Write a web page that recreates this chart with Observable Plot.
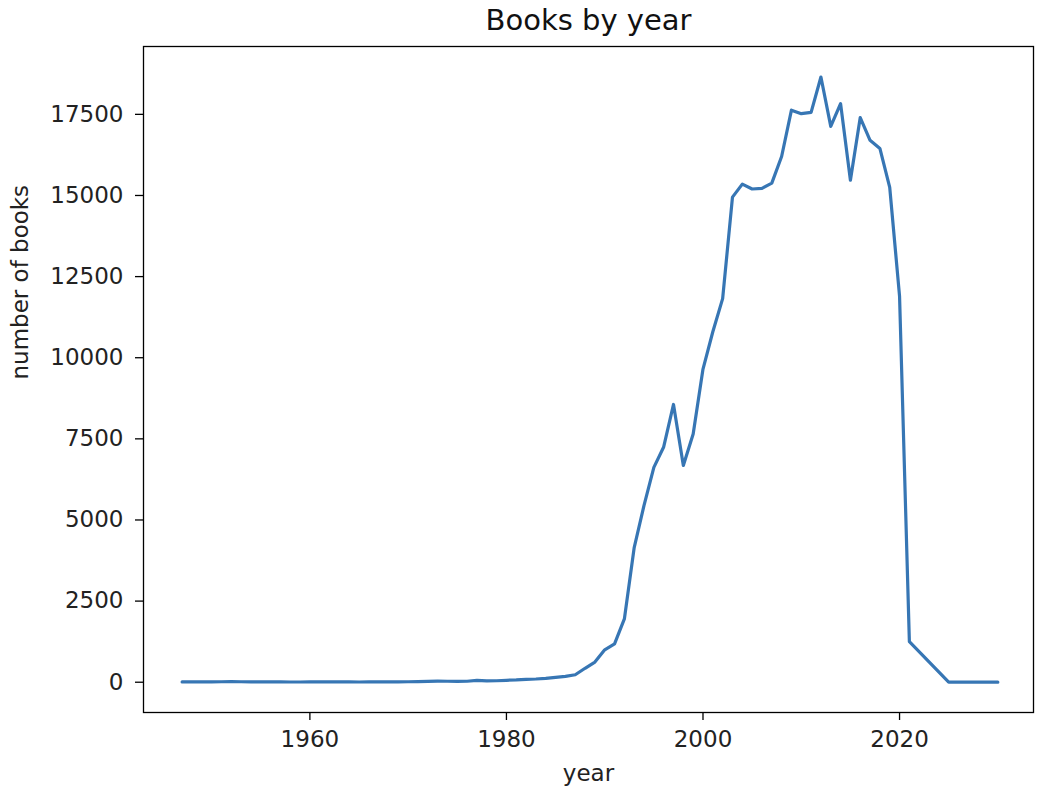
<!DOCTYPE html>
<html>
<head>
<meta charset="utf-8">
<script src="https://cdn.jsdelivr.net/npm/d3@7"></script>
<script src="https://cdn.jsdelivr.net/npm/@observablehq/plot@0.6"></script>
<style>
  html, body { margin: 0; padding: 0; background: #fff; }
  #chart svg { display: block; }
</style>
</head>
<body>
<div id="chart"></div>
<script>
const years = [1947,1948,1949,1950,1951,1952,1953,1954,1955,1956,1957,1958,1959,
  1960,1961,1962,1963,1964,1965,1966,1967,1968,1969,
  1970,1971,1972,1973,1974,1975,1976,1977,1978,1979,
  1980,1981,1982,1983,1984,1985,1986,1987,1988,1989,
  1990,1991,1992,1993,1994,1995,1996,1997,1998,1999,
  2000,2001,2002,2003,2004,2005,2006,2007,2008,2009,
  2010,2011,2012,2013,2014,2015,2016,2017,2018,2019,
  2020,2021,2025,2030];
const books = [10,8,10,12,15,20,15,10,8,8,8,7,7,
  8,8,8,8,8,7,8,8,10,12,
  15,20,28,35,30,28,30,55,40,45,
  60,70,90,100,120,150,180,230,430,620,
  1000,1180,1950,4150,5450,6620,7250,8560,6680,7650,
  9650,10800,11820,14950,15350,15200,15220,15380,16200,17630,
  17520,17560,18650,17130,17830,15470,17400,16700,16450,15250,
  11900,1250,0,0];
const xTicks = [1960, 1980, 2000, 2020];
const yTicks = [0, 2500, 5000, 7500, 10000, 12500, 15000, 17500];
const titleText = "Books by year";
const xLabel = "year";
const yLabel = "number of books";

const data = years.map((y, i) => ({year: y, count: books[i]}));
const font = "DejaVu Sans, sans-serif";

const chart = Plot.plot({
  width: 1046,
  height: 796,
  marginLeft: 143,
  marginRight: 13,
  marginTop: 46,
  marginBottom: 84,
  style: {fontFamily: font, fontSize: "23px", color: "#000", background: "#fff"},
  x: {domain: [1943.07, 2033.63], ticks: xTicks, tickFormat: d => String(d)},
  y: {domain: [-933, 19591], ticks: yTicks, tickFormat: d => String(d)},
  marks: [
    Plot.line(data, {x: "year", y: "count", stroke: "#3776b4", strokeWidth: 3.2}),
    Plot.frame({stroke: "#000", strokeWidth: 1.3}),
    Plot.axisX({ticks: xTicks, tickSize: 8, tickPadding: 10, tickFormat: d => String(d), label: null, stroke: "#000", strokeWidth: 1.3, fill: "#222"}),
    Plot.axisY({ticks: yTicks, tickSize: 8, tickPadding: 12, tickFormat: d => String(d), label: null, stroke: "#000", strokeWidth: 1.3, fill: "#222"}),
    Plot.text([titleText], {frameAnchor: "top", dy: -26, fontSize: 29, fill: "#111", lineAnchor: "middle"}),
    Plot.text([xLabel], {frameAnchor: "bottom", dy: 61, fontSize: 23, fill: "#222", lineAnchor: "middle"}),
    Plot.text([yLabel], {frameAnchor: "left", dx: -123, rotate: -90, fontSize: 23, fill: "#222", lineAnchor: "middle"})
  ]
});
document.getElementById("chart").appendChild(chart);
</script>
</body>
</html>
